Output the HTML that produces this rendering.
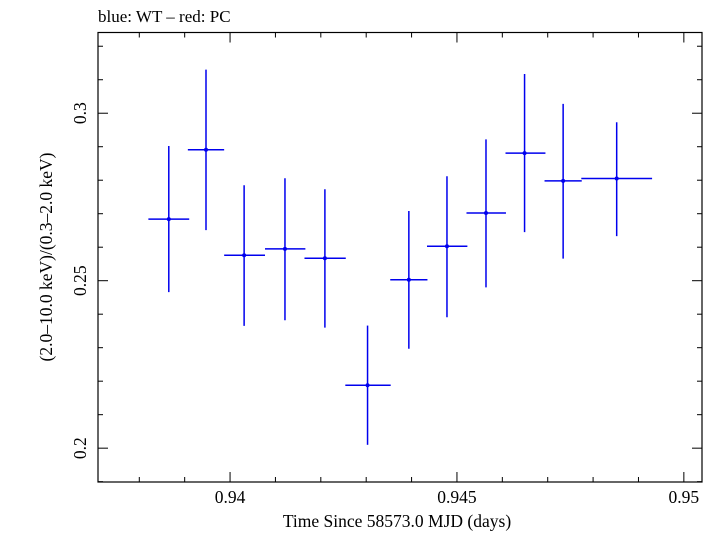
<!DOCTYPE html>
<html><head><meta charset="utf-8"><style>body{margin:0;background:#fff}svg text{font-family:"Liberation Serif",serif;fill:#000}</style></head>
<body>
<svg id="c" width="717" height="532" xmlns="http://www.w3.org/2000/svg"></svg>
<script>
const times=[0.93865,0.93947,0.94031,0.94121,0.94209,0.94303,0.94394,0.94478,0.94564,0.94649,0.94734,0.94852];
const timeLo=[0.93820,0.93907,0.93987,0.94077,0.94164,0.94254,0.94353,0.94434,0.94521,0.94607,0.94693,0.94774];
const timeHi=[0.93910,0.93987,0.94077,0.94166,0.94255,0.94354,0.94435,0.94523,0.94608,0.94695,0.94775,0.94930];
const ratios=[0.2684,0.2891,0.2576,0.2595,0.2567,0.2188,0.2503,0.2603,0.2702,0.2881,0.2798,0.2805];
const ratioHi=[0.2902,0.3130,0.2785,0.2806,0.2773,0.2366,0.2708,0.2812,0.2922,0.3117,0.3028,0.2973];
const ratioLo=[0.2466,0.2651,0.2365,0.2382,0.2360,0.2010,0.2297,0.2391,0.2480,0.2645,0.2566,0.2633];
const xTicks=[0.94,0.945,0.95];
const xTickLabels=["0.94","0.945","0.95"];
const yTicks=[0.2,0.25,0.3];
const yTickLabels=["0.2","0.25","0.3"];
const L=98,R=702,T=32.5,B=482;
const xmin=0.93709,xmax=0.9504,ymin=0.1899,ymax=0.3241;
const X=v=>L+(v-xmin)/(xmax-xmin)*(R-L);
const Y=v=>B-(v-ymin)/(ymax-ymin)*(B-T);
const svg=document.getElementById('c');const NS='http://www.w3.org/2000/svg';
function mk(t,a,p){const e=document.createElementNS(NS,t);for(const k in a)e.setAttribute(k,a[k]);(p||svg).appendChild(e);return e;}
const frame=mk('rect',{x:L,y:T,width:R-L,height:B-T,fill:'none',stroke:'#000','stroke-width':1.2});


const tg=mk('g',{stroke:'#000','stroke-width':1});


for(let i=0;i<=14;i++){const v=0.937+i*0.001;if(v<xmin||v>xmax)continue;const maj=Math.abs(v*200-Math.round(v*200))<1e-6;const l=maj?10:5;const x=X(v);mk('line',{x1:x,y1:B,x2:x,y2:B-l},tg);mk('line',{x1:x,y1:T,x2:x,y2:T+l},tg);}
for(let i=0;i<=14;i++){const v=0.19+i*0.01;if(v<ymin||v>ymax)continue;const maj=Math.abs(v*20-Math.round(v*20))<1e-6;const l=maj?10:5;const y=Y(v);mk('line',{x1:L,y1:y,x2:L+l,y2:y},tg);mk('line',{x1:R,y1:y,x2:R-l,y2:y},tg);}
xTicks.forEach((v,i)=>{const t=mk('text',{x:X(v),y:503,'font-size':17.5,'text-anchor':'middle'});t.textContent=xTickLabels[i];

});
yTicks.forEach((v,i)=>{const y=Y(v);const t=mk('text',{x:0,y:0,'font-size':17.5,'text-anchor':'middle',transform:`translate(86,${y}) rotate(-90)`});t.textContent=yTickLabels[i];

});
const g=mk('g',{stroke:'#0000ee','stroke-width':1.5});


times.forEach((t,i)=>{const x=X(t),y=Y(ratios[i]);
const h=mk('line',{x1:X(timeLo[i]),y1:y,x2:X(timeHi[i]),y2:y},g);


const v=mk('line',{x1:x,y1:Y(ratioHi[i]),x2:x,y2:Y(ratioLo[i])},g);


const c=mk('circle',{cx:x,cy:y,r:2,fill:'#0000ee',stroke:'none'},g);

});
</script>
<div style="position:absolute;left:0;top:0;width:717px;height:532px;pointer-events:none">
<svg width="717" height="532" xmlns="http://www.w3.org/2000/svg">
<text x="98" y="22" font-size="17" font-family="Liberation Serif, serif">blue: WT – red: PC</text>
<text x="397" y="527" font-size="17.5" font-family="Liberation Serif, serif" text-anchor="middle">Time Since 58573.0 MJD (days)</text>
<text transform="translate(52,257) rotate(-90)" font-size="17.5" font-family="Liberation Serif, serif" text-anchor="middle">(2.0–10.0 keV)/(0.3–2.0 keV)</text>
</svg></div>
</body></html>
